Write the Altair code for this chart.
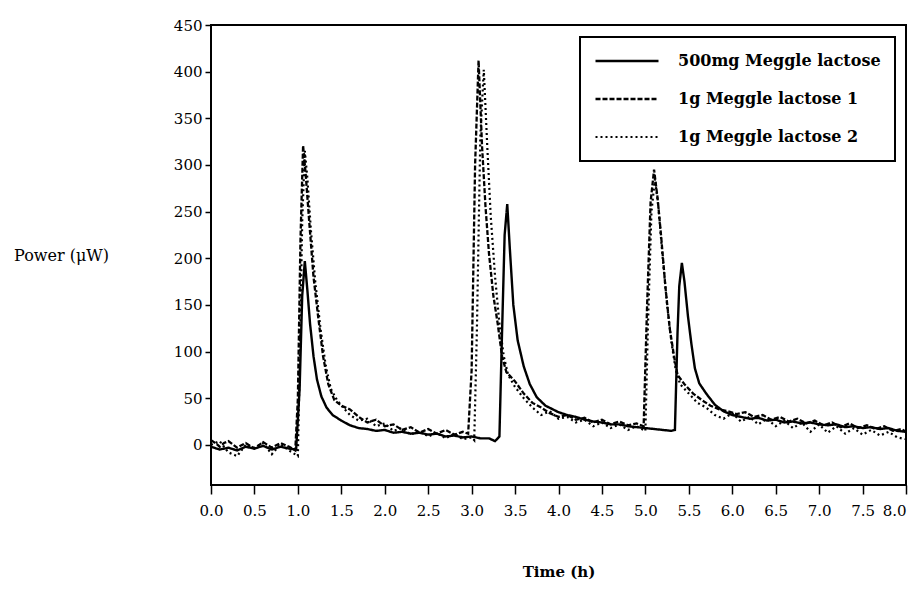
import altair as alt
import pandas as pd

series_names = ["500mg Meggle lactose", "1g Meggle lactose 1", "1g Meggle lactose 2"]

t_a = [0.0, 0.1, 0.2, 0.3, 0.4, 0.5, 0.6, 0.7, 0.8, 0.9, 0.98, 1.02, 1.05, 1.08, 1.11, 1.14, 1.18, 1.22,
       1.27, 1.33, 1.4, 1.5, 1.6, 1.7, 1.8, 1.9, 2.0, 2.1, 2.2, 2.3, 2.4, 2.5, 2.6, 2.7, 2.8, 2.9, 3.0,
       3.1, 3.2, 3.27, 3.32, 3.35, 3.38, 3.41, 3.44, 3.48, 3.53, 3.6, 3.67, 3.75, 3.85, 4.0, 4.1, 4.2,
       4.3, 4.4, 4.5, 4.6, 4.7, 4.8, 4.9, 5.0, 5.1, 5.2, 5.3, 5.34, 5.37, 5.39, 5.42, 5.45, 5.49, 5.53,
       5.57, 5.62, 5.7, 5.8, 5.9, 6.0, 6.1, 6.2, 6.3, 6.4, 6.5, 6.6, 6.7, 6.8, 6.9, 7.0, 7.1, 7.2, 7.3,
       7.4, 7.5, 7.6, 7.7, 7.8, 7.9, 8.0]
v_a = [-2, -5, -3, -6, -2, -4, -1, -5, -2, -4, -5, 60, 160, 197, 165, 130, 95, 70,
       52, 40, 32, 26, 21, 18, 17, 15, 16, 13, 14, 12, 13, 11, 12, 9, 10, 8, 9,
       7, 7, 4, 9, 120, 225, 258, 210, 150, 112, 84, 65, 51, 42, 35, 32, 30,
       27, 25, 24, 22, 22, 20, 19, 18, 17, 16, 15, 16, 120, 170, 195, 175, 138, 108,
       82, 66, 55, 43, 36, 32, 30, 28, 29, 26, 27, 24, 25, 23, 24, 22, 21, 22, 19,
       20, 18, 19, 17, 18, 15, 14]

t_b = [0.0, 0.05, 0.1, 0.15, 0.2, 0.3, 0.4, 0.5, 0.6, 0.7, 0.8, 0.9, 0.97, 1.0, 1.03, 1.06, 1.09, 1.13,
       1.18, 1.23, 1.29, 1.35, 1.42, 1.5, 1.6, 1.7, 1.8, 1.9, 2.0, 2.1, 2.2, 2.3, 2.4, 2.5, 2.6, 2.7,
       2.8, 2.9, 2.96, 3.0, 3.04, 3.08, 3.12, 3.16, 3.2, 3.25, 3.3, 3.35, 3.4, 3.5, 3.6, 3.7, 3.8, 3.9,
       4.0, 4.1, 4.2, 4.3, 4.4, 4.5, 4.6, 4.7, 4.8, 4.9, 4.98, 5.02, 5.06, 5.1, 5.14, 5.18, 5.23, 5.28,
       5.33, 5.37, 5.45, 5.55, 5.65, 5.75, 5.85, 5.95, 6.05, 6.15, 6.25, 6.35, 6.45, 6.55, 6.65, 6.75,
       6.85, 6.95, 7.05, 7.15, 7.25, 7.35, 7.45, 7.55, 7.65, 7.75, 7.85, 7.95, 8.0]
v_b = [5, 2, -2, 2, 4, -3, 2, -4, 3, -3, 2, -2, -6, 50, 220, 321, 290, 240,
       180, 140, 95, 65, 48, 42, 38, 30, 24, 27, 20, 22, 16, 19, 13, 17, 12, 16,
       11, 14, 12, 80, 300, 412, 320, 255, 205, 160, 130, 95, 78, 68, 55, 45, 40, 34,
       30, 32, 27, 29, 24, 27, 22, 25, 21, 23, 20, 150, 260, 295, 265, 225, 170, 125,
       95, 75, 65, 55, 48, 42, 38, 36, 33, 35, 30, 32, 27, 30, 25, 28,
       23, 26, 21, 24, 19, 23, 18, 21, 17, 20, 15, 17, 14]

t_c = [0.0, 0.1, 0.2, 0.3, 0.4, 0.5, 0.6, 0.7, 0.8, 0.9, 1.0, 1.02, 1.05, 1.08, 1.11, 1.15, 1.2, 1.26,
       1.32, 1.38, 1.45, 1.52, 1.6, 1.7, 1.8, 1.9, 2.0, 2.1, 2.2, 2.3, 2.4, 2.5, 2.6, 2.7, 2.8, 2.9,
       3.0, 3.03, 3.06, 3.1, 3.14, 3.18, 3.22, 3.27, 3.32, 3.37, 3.42, 3.5, 3.6, 3.7, 3.8, 3.9, 4.0,
       4.1, 4.2, 4.3, 4.4, 4.5, 4.6, 4.7, 4.8, 4.9, 5.0, 5.03, 5.07, 5.11, 5.15, 5.2, 5.25, 5.3, 5.35,
       5.4, 5.5, 5.6, 5.7, 5.8, 5.9, 6.0, 6.1, 6.2, 6.3, 6.4, 6.5, 6.6, 6.7, 6.8, 6.9, 7.0, 7.1, 7.2,
       7.3, 7.4, 7.5, 7.6, 7.7, 7.8, 7.9, 8.0]
v_c = [0, 4, -8, -12, 0, -3, 2, -10, 1, -6, -12, 80, 240, 315, 285, 230, 175, 125,
       85, 60, 48, 40, 32, 26, 28, 20, 23, 15, 18, 11, 15, 9, 13, 7, 12, 6,
       8, 5, 120, 330, 402, 320, 245, 180, 130, 95, 75, 62, 50, 40, 32, 36, 28,
       30, 24, 27, 20, 24, 18, 22, 16, 20, 15, 130, 250, 285, 255, 200, 150, 110, 80,
       65, 55, 45, 40, 32, 28, 34, 25, 30, 22, 28, 20, 26, 18, 24, 14, 22, 13, 20,
       12, 18, 11, 16, 10, 14, 8, 6]

x_ticks = [0.0, 0.5, 1.0, 1.5, 2.0, 2.5, 3.0, 3.5, 4.0, 4.5, 5.0, 5.5, 6.0, 6.5, 7.0, 7.5, 8.0]
y_ticks = [0, 50, 100, 150, 200, 250, 300, 350, 400, 450]

rows = []
for name, ts, vs in zip(series_names, [t_a, t_b, t_c], [v_a, v_b, v_c]):
    for i, (t, v) in enumerate(zip(ts, vs)):
        rows.append({"series": name, "t": t, "v": v, "i": i})
df = pd.DataFrame(rows)

FONT = "DejaVu Serif"

chart = alt.Chart(df).mark_line(color="black", clip=True).encode(
    x=alt.X("t:Q",
            scale=alt.Scale(domain=[0, 8], nice=False, zero=False),
            axis=alt.Axis(values=x_ticks, format=".1f", title="Time (h)",
                          titleFontWeight="bold", titleY=86, titleFontSize=15,
                          titleBaseline="middle",
                          tickSize=9, labelPadding=9, grid=False, domain=False,
                          labelFontSize=15, labelFlush=False,
                          labelAlign={"condition": {"test": "datum.value >= 8", "value": "right"},
                                      "value": "center"})),
    y=alt.Y("v:Q",
            scale=alt.Scale(domain=[-43, 450], nice=False, zero=False),
            axis=alt.Axis(values=y_ticks, title="Power (μW)", titleAngle=0,
                          titleFontWeight="normal", titleFontSize=16,
                          titleX=-150, titleY=230, titleAlign="center",
                          titleBaseline="middle",
                          tickSize=6, labelPadding=3, grid=False, domain=False,
                          labelFontSize=15)),
    strokeDash=alt.StrokeDash("series:N",
                              scale=alt.Scale(domain=series_names,
                                              range=[[1, 0], [5, 2], [2, 3]]),
                              legend=alt.Legend(title=None, orient="none",
                                                legendX=369, legendY=12,
                                                symbolType="stroke", symbolSize=3969,
                                                symbolStrokeColor="black",
                                                clipHeight=20, rowPadding=18,
                                                labelOffset=18, padding=14,
                                                strokeColor="black",
                                                labelFont=FONT, labelFontSize=16,
                                                labelFontWeight="bold",
                                                labelColor="black",
                                                labelLimit=400)),
    strokeWidth=alt.StrokeWidth("series:N",
                                scale=alt.Scale(domain=series_names, range=[2.4, 2.2, 2.2]),
                                legend=None),
    detail="series:N",
    order="i:Q",
).properties(
    width=695, height=460,
    autosize=alt.AutoSizeParams(type="none"),
    padding={"left": 203, "top": 17, "right": 6, "bottom": 95},
).configure_view(
    stroke="black", strokeWidth=2
).configure_axis(
    labelFont=FONT, titleFont=FONT, labelColor="black", titleColor="black",
    tickColor="black", tickWidth=1.5
).configure_legend(
    strokeWidth=2
)

chart.save("out.html", embed_options={"renderer": "svg", "actions": False})
